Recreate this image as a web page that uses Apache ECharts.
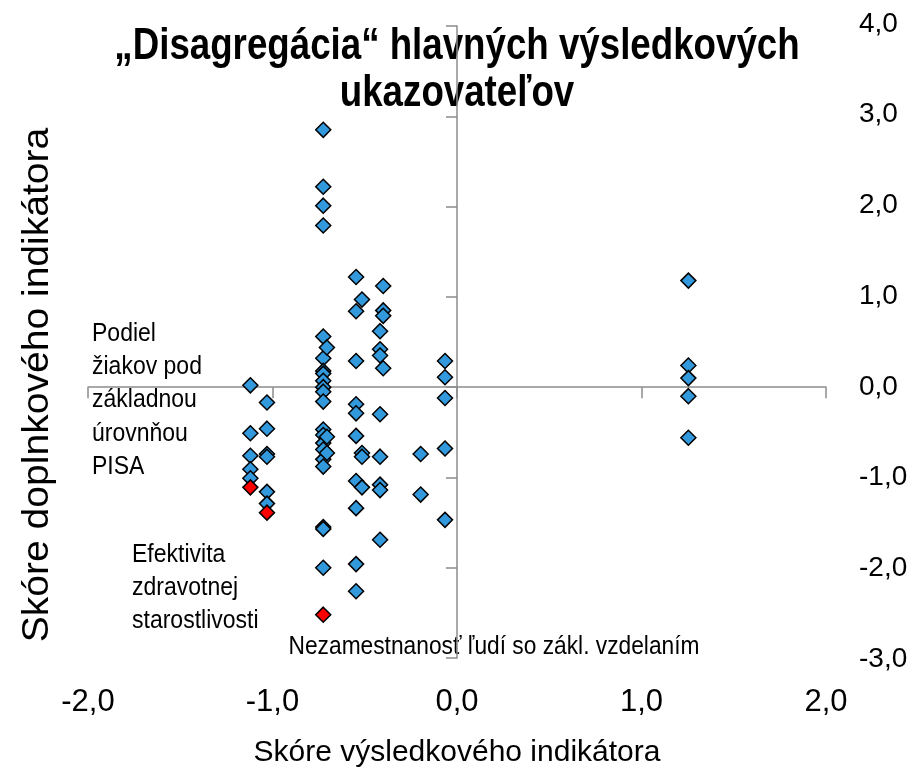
<!DOCTYPE html>
<html>
<head>
<meta charset="utf-8">
<script src="https://cdn.jsdelivr.net/npm/echarts@6/dist/echarts.min.js"></script>
<style>html,body{margin:0;padding:0;background:#fff}#c{width:915px;height:773px}</style>
</head>
<body>
<div id="c"></div>
<script>
// ---- data ----
const titleText = '„Disagregácia“ hlavných výsledkových\nukazovateľov';
const xAxisName = 'Skóre výsledkového indikátora';
const yAxisName = 'Skóre doplnkového indikátora';
const xTicks = [-2, -1, 0, 1, 2];
const yTicks = [-3, -2, -1, 0, 1, 2, 3, 4];

// blue points: x = result indicator score, y = supplementary indicator score
const blueX = [
  -1.12, -1.12, -1.12, -1.12, -1.12,
  -1.03, -1.03, -1.03, -1.03, -1.03, -1.03,
  -0.725, -0.725, -0.725, -0.725, -0.725, -0.725, -0.725, -0.725, -0.725, -0.725, -0.725,
  -0.725, -0.725, -0.725, -0.725, -0.725, -0.725, -0.725, -0.725, -0.725, -0.725,
  -0.705, -0.705, -0.705,
  -0.547, -0.547, -0.547, -0.547, -0.547, -0.547, -0.547, -0.547, -0.547, -0.547,
  -0.515, -0.515, -0.515, -0.515,
  -0.417, -0.417, -0.417, -0.417, -0.417, -0.417, -0.417, -0.417,
  -0.40, -0.40, -0.40, -0.40,
  -0.197, -0.197,
  -0.065, -0.065, -0.065, -0.065, -0.065,
  1.254, 1.254, 1.254, 1.254, 1.254
];
const blueY = [
  0.02, -0.51, -0.76, -0.91, -1.01,
  -0.17, -0.46, -0.74, -0.77, -1.16, -1.29,
  2.85, 2.22, 2.01, 1.79, 0.56, 0.32, 0.18, 0.15, 0.07, 0.00, -0.05,
  -0.16, -0.47, -0.53, -0.62, -0.69, -0.80, -0.88, -1.55, -1.57, -2.00,
  0.44, -0.55, -0.73,
  1.22, 0.84, 0.29, -0.19, -0.29, -0.54, -1.04, -1.34, -1.96, -2.26,
  0.97, -0.73, -0.77, -1.11,
  0.62, 0.42, 0.35, -0.30, -0.77, -1.08, -1.14, -1.69,
  1.12, 0.85, 0.79, 0.21,
  -0.74, -1.19,
  0.29, 0.11, -0.12, -0.68, -1.47,
  1.18, 0.24, 0.10, -0.10, -0.56
];
// highlighted (red) points
const redX = [-1.12, -1.03, -0.725];
const redY = [-1.11, -1.39, -2.52];

// annotation labels
const noteA = 'Podiel\nžiakov pod\nzákladnou\núrovnňou\nPISA';
const noteB = 'Efektivita\nzdravotnej\nstarostlivosti';
const noteC = 'Nezamestnanosť ľudí so zákl. vzdelaním';

// ---- chart ----
const REG = '"Liberation Sans", Arial, sans-serif';
const fmt = v => v.toFixed(1).replace('.', ',');
const zip = (a, b) => a.map((v, i) => [v, b[i]]);
const axisGray = '#8c8c8c';
const xMin = xTicks[0], xMax = xTicks[xTicks.length - 1];
const yMin = yTicks[0], yMax = yTicks[yTicks.length - 1];

const chart = echarts.init(document.getElementById('c'), null, {renderer: 'canvas'});
chart.setOption({
  backgroundColor: '#ffffff',
  animation: false,
  grid: [
    {left: 88, right: 89, top: 26, bottom: 115, containLabel: false},   // plot area with crossing axes
    {left: 88, right: 89, top: 24, bottom: 110, containLabel: false}    // frame for the outer tick labels
  ],
  xAxis: [
    {
      gridIndex: 0, type: 'value', min: xMin, max: xMax, interval: 1, position: 'bottom',
      axisLine: {show: true, onZero: true, onZeroAxisIndex: 0, lineStyle: {color: axisGray, width: 1.5}},
      axisTick: {show: true, length: 11, lineStyle: {color: axisGray, width: 1.5}},
      axisLabel: {show: false}, splitLine: {show: false}
    },
    {
      gridIndex: 1, type: 'value', min: xMin, max: xMax, interval: 1, position: 'bottom',
      axisLine: {show: false, onZero: false}, axisTick: {show: false}, splitLine: {show: false},
      axisLabel: {formatter: fmt, fontFamily: REG, fontSize: 31, color: '#000', margin: 28},
      name: xAxisName, nameLocation: 'middle', nameGap: 79,
      nameTextStyle: {fontFamily: REG, fontSize: 30, color: '#000'}
    }
  ],
  yAxis: [
    {
      gridIndex: 0, type: 'value', min: yMin, max: yMax, interval: 1, position: 'left',
      axisLine: {show: true, onZero: true, onZeroAxisIndex: 0, lineStyle: {color: axisGray, width: 1.5}},
      axisTick: {show: true, length: 11, lineStyle: {color: axisGray, width: 1.5}},
      axisLabel: {show: false}, splitLine: {show: false}
    },
    {
      gridIndex: 1, type: 'value', min: yMin, max: yMax, interval: 1, position: 'right',
      axisLine: {show: false, onZero: false}, axisTick: {show: false}, splitLine: {show: false},
      axisLabel: {formatter: fmt, fontFamily: REG, fontSize: 28, color: '#000', margin: 33}
    }
  ],
  graphic: [
    {type: 'text', x: 457, y: 23, scaleX: 0.834,
      style: {text: titleText, fontFamily: REG, fontWeight: 'bold', fontSize: 44, lineHeight: 47, fill: '#000', align: 'center', verticalAlign: 'top'}},
    {type: 'text', x: 38, y: 385, rotation: Math.PI / 2, scaleX: 1.085,
      style: {text: yAxisName, fontFamily: REG, fontSize: 36, fill: '#000', align: 'center', verticalAlign: 'middle'}},
    {type: 'text', x: 92, y: 317, scaleY: 1.1,
      style: {text: noteA, fontFamily: REG, fontSize: 23, lineHeight: 30.36, fill: '#000', align: 'left', verticalAlign: 'top'}},
    {type: 'text', x: 132, y: 538, scaleY: 1.1,
      style: {text: noteB, fontFamily: REG, fontSize: 23, lineHeight: 30.36, fill: '#000', align: 'left', verticalAlign: 'top'}},
    {type: 'text', x: 494, y: 647, scaleX: 0.91,
      style: {text: noteC, fontFamily: REG, fontSize: 25, fill: '#000', align: 'center', verticalAlign: 'middle'}}
  ],
  series: [
    {
      type: 'scatter', xAxisIndex: 0, yAxisIndex: 0,
      symbol: 'diamond', symbolSize: 15,
      itemStyle: {color: '#3399dd', borderColor: '#000', borderWidth: 1.5, opacity: 1},
      data: zip(blueX, blueY)
    },
    {
      type: 'scatter', xAxisIndex: 0, yAxisIndex: 0,
      symbol: 'diamond', symbolSize: 15,
      itemStyle: {color: '#ff0000', borderColor: '#000', borderWidth: 1.5, opacity: 1},
      data: zip(redX, redY)
    }
  ]
});
</script>
</body>
</html>
